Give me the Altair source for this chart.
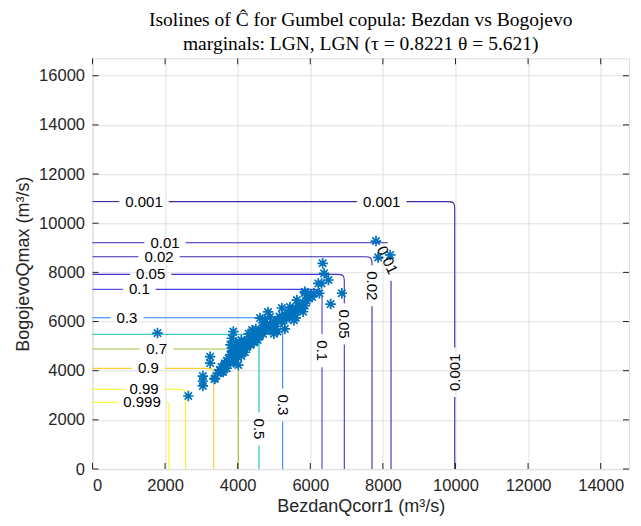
import altair as alt
import pandas as pd

# ---- axis ranges and plot-area size -------------------------------------
X_MAX = 14780
Y_MAX = 16710
W = 536.5
H = 410.7

# ---- contour levels of C-hat -------------------------------------------
levels = [0.001, 0.01, 0.02, 0.05, 0.1, 0.3, 0.5, 0.7, 0.9, 0.99, 0.999]
# x where each isoline runs vertically, y where it runs horizontally
level_x = [9979, 8224, 7700, 6937, 6323, 5239, 4587, 4018, 3339, 2567, 2108]
level_y = [10880, 9206, 8637, 7920, 7310, 6155, 5480, 4882, 4096, 3242, 2713]
level_colors = ["#3e26a8", "#3e27ab", "#3f28af", "#4332cb", "#4741e5", "#2e87f7",
                "#0bbdbc", "#9dc943", "#fccf30", "#f7f51b", "#f9fb14"]

# ---- inline contour labels ---------------------------------------------
label_level = [0.001, 0.001, 0.01, 0.02, 0.05, 0.1, 0.3, 0.7, 0.9, 0.99, 0.999,
               0.01, 0.02, 0.05, 0.1, 0.3, 0.5, 0.001]
label_x = [1419, 7967, 1997, 1832, 1603, 1290, 950, 1768, 1538, 1419, 1364,
           8122, 7700, 6937, 6323, 5239, 4587, 9979]
label_y = [10880, 10880, 9206, 8637, 7920, 7310, 6155, 4882, 4096, 3242, 2713,
           8502, 7457, 5899, 4812, 2604, 1627, 3934]
label_angle = [0, 0, 0, 0, 0, 0, 0, 0, 0, 0, 0, 65, 90, 90, 90, 90, 90, 270]

# ---- observed pairs (Bezdan, Bogojevo) ---------------------------------
obs_x = [1790, 2640, 3040, 3040, 3040, 3240, 3240, 3360, 3510, 3880, 3840, 3800,
         7810, 7870, 8200, 6340, 6380, 6500, 6310, 6250, 6870, 6560, 5850, 6220,
         3375, 3560, 3650, 3835, 4017, 3880, 4155, 4340,
         3450, 3550, 3600, 3650, 3700, 3700, 3750, 3800, 3800, 3850, 3850, 3900,
         3900, 3950, 3950, 4000, 4000, 4050, 4050, 4100, 4100, 4150, 4150, 4200,
         4200, 4250, 4250, 4300, 4350, 4350, 4400, 4450, 4450, 4500, 4550, 4550,
         4600, 4650, 4700, 4700, 4750, 4800, 4850, 4900, 4900, 4950, 5000, 5050,
         5100, 5150, 5200, 5250, 5300, 5350, 5400, 5450, 5500, 5550, 5600, 5650,
         5700, 5750, 5800, 5850, 5900, 5950, 6000, 6050, 6100,
         4615, 4835, 4890, 5215, 5440, 5630, 5854, 5215, 4500, 4700, 5000, 5300,
         5550, 5800, 4300, 4100, 3950, 4400, 4750, 5100, 5600]
obs_y = [5530, 2970, 3780, 3580, 3380, 4570, 4310, 3660, 4030, 5590, 5320, 5050,
         9275, 8610, 8710, 8370, 7960, 7690, 7550, 7150, 7150, 6710, 7210, 7550,
         3690, 3960, 4300, 4430, 4230, 4840, 4975, 5110,
         3900, 4150, 3950, 4250, 4400, 4100, 4500, 4300, 4650, 4450, 4800, 4600,
         4350, 4750, 4950, 4550, 4850, 4700, 5000, 4900, 4600, 5100, 4800, 5000,
         4750, 5200, 4950, 5100, 5300, 5050, 5200, 5400, 5150, 5300, 5500, 5250,
         5400, 5600, 5500, 5750, 5650, 5800, 5700, 5900, 5650, 5850, 6000, 5800,
         6050, 6200, 6000, 6150, 6300, 6100, 6350, 6250, 6450, 6350, 6550, 6450,
         6650, 6550, 6750, 6650, 6850, 6950, 7050, 7000, 7150,
         6140, 6390, 6180, 6550, 6590, 6875, 7160, 6060, 5700, 5950, 5500, 5700,
         6050, 6400, 5500, 5250, 5150, 5650, 6100, 5600, 6150]

x_ticks = list(range(0, 14001, 2000))
y_ticks = list(range(0, 16001, 2000))

TITLE = ["Isolines of \u0108 for Gumbel copula: Bezdan vs Bogojevo",
         "marginals: LGN, LGN (\u03c4 = 0.8221 \u03b8 = 5.621)"]
AXIS_COLOR = "#262626"
SANS = "Liberation Sans"
LABEL_SIZE = 15
TICK_SIZE = 16.5
AXIS_TITLE_SIZE = 18

# ---- build the isoline paths, broken where a label sits ----------------
px_x = W / X_MAX
px_y = H / Y_MAX
CORNER = 8   # rounding of the isoline corner, in px
PAD = 6      # clearance around an inline label, in px

line_rows = []
for i, lev in enumerate(levels):
    xp = level_x[i] * px_x
    yp = level_y[i] * px_y
    verts = [(0, yp), (xp - 2 * CORNER, yp), (xp - CORNER, yp), (xp, yp),
             (xp, yp - CORNER), (xp, yp - 2 * CORNER), (xp, 0)]
    s = [0.0]
    for a, b in zip(verts[:-1], verts[1:]):
        s.append(s[-1] + abs(b[0] - a[0]) + abs(b[1] - a[1]))

    gaps = []
    for j, ll in enumerate(label_level):
        if ll != lev:
            continue
        lx = label_x[j] * px_x
        ly = label_y[j] * px_y
        txt = str(ll)
        half = LABEL_SIZE * (0.556 * (len(txt) - 1) + 0.278) / 2 + PAD
        dh = abs(ly - yp) if lx <= xp else float("inf")
        dv = abs(lx - xp) if ly <= yp else float("inf")
        sc = lx if dh <= dv else xp + (yp - ly)
        gaps.append((sc - half, sc + half))
    gaps.sort()

    pieces = []
    start = 0.0
    for g0, g1 in gaps:
        if g0 > start:
            pieces.append((start, g0))
        start = max(start, g1)
    if start < s[-1]:
        pieces.append((start, s[-1]))

    def point_at(t):
        for k in range(len(verts) - 1):
            if s[k] <= t <= s[k + 1]:
                seg = s[k + 1] - s[k]
                f = 0 if seg == 0 else (t - s[k]) / seg
                return (verts[k][0] + f * (verts[k + 1][0] - verts[k][0]),
                        verts[k][1] + f * (verts[k + 1][1] - verts[k][1]))
        return verts[-1]

    for pi, (a, b) in enumerate(pieces):
        pts = [point_at(a)] + [verts[k] for k in range(len(verts)) if a < s[k] < b] + [point_at(b)]
        for order, (qx, qy) in enumerate(pts):
            line_rows.append({"level": str(lev), "piece": f"{lev}-{pi}", "order": order,
                              "x": qx / px_x, "y": qy / px_y})

lines_df = pd.DataFrame(line_rows)
labels_df = pd.DataFrame({"text": [str(v) for v in label_level], "x": label_x,
                          "y": label_y, "angle": label_angle})
obs_df = pd.DataFrame({"x": obs_x, "y": obs_y})

xscale = alt.Scale(domain=[0, X_MAX], nice=False, zero=False)
yscale = alt.Scale(domain=[0, Y_MAX], nice=False, zero=False)

x_axis = alt.Axis(values=x_ticks, format="d", grid=True, gridColor="#dfdfdf", domain=False,
                  ticks=False, labelFont=SANS, labelFontSize=TICK_SIZE, labelColor=AXIS_COLOR,
                  labelPadding=8, title="BezdanQcorr1 (m\u00b3/s)", titleFont=SANS,
                  titleFontSize=AXIS_TITLE_SIZE, titleFontWeight="normal", titleColor=AXIS_COLOR,
                  titlePadding=4)
y_axis = alt.Axis(values=y_ticks, format="d", grid=True, gridColor="#dfdfdf", domain=False,
                  ticks=False, labelFont=SANS, labelFontSize=TICK_SIZE, labelColor=AXIS_COLOR,
                  labelPadding=8, title="BogojevoQmax (m\u00b3/s)", titleFont=SANS,
                  titleFontSize=AXIS_TITLE_SIZE, titleFontWeight="normal", titleColor=AXIS_COLOR,
                  titlePadding=6)

iso = alt.Chart(lines_df).mark_line(interpolate="basis", strokeWidth=1.1).encode(
    x=alt.X("x:Q", scale=xscale, axis=x_axis),
    y=alt.Y("y:Q", scale=yscale, axis=y_axis),
    detail="piece:N",
    order="order:Q",
    color=alt.Color("level:N", scale=alt.Scale(domain=[str(v) for v in levels], range=level_colors),
                    legend=None),
)

ASTERISK = "M-1,0L1,0M0,-1L0,1M-0.7,-0.7L0.7,0.7M-0.7,0.7L0.7,-0.7"
pts = alt.Chart(obs_df).mark_point(shape=ASTERISK, size=110, filled=False, strokeWidth=1.7,
                                   color="#0072bd", opacity=1).encode(
    x=alt.X("x:Q", scale=xscale),
    y=alt.Y("y:Q", scale=yscale),
)

labels = alt.Chart(labels_df).mark_text(font=SANS, fontSize=LABEL_SIZE, color="black",
                                        align="center", baseline="middle").encode(
    x=alt.X("x:Q", scale=xscale),
    y=alt.Y("y:Q", scale=yscale),
    text="text:N",
    angle=alt.Angle("angle:Q", scale=None),
)

# inward tick marks on all four sides of the box
xt = pd.DataFrame({"v": x_ticks})
yt = pd.DataFrame({"v": y_ticks})
TL = 6
tick_bottom = alt.Chart(xt).mark_rule(color=AXIS_COLOR, strokeWidth=1).encode(
    x=alt.X("v:Q", scale=xscale), y=alt.value(H), y2=alt.value(H - TL))
tick_top = alt.Chart(xt).mark_rule(color=AXIS_COLOR, strokeWidth=1).encode(
    x=alt.X("v:Q", scale=xscale), y=alt.value(0), y2=alt.value(TL))
tick_left = alt.Chart(yt).mark_rule(color=AXIS_COLOR, strokeWidth=1).encode(
    y=alt.Y("v:Q", scale=yscale), x=alt.value(0), x2=alt.value(TL))
tick_right = alt.Chart(yt).mark_rule(color=AXIS_COLOR, strokeWidth=1).encode(
    y=alt.Y("v:Q", scale=yscale), x=alt.value(W), x2=alt.value(W - TL))

chart = alt.layer(iso, pts, labels, tick_bottom, tick_top, tick_left, tick_right).properties(
    width=W, height=H,
    title=alt.TitleParams(text=TITLE, font="Liberation Serif", fontSize=19.5, fontWeight="normal",
                          color="black", anchor="middle", lineHeight=24, offset=3),
    padding={"left": 92.5, "top": 58.3, "right": 12, "bottom": 57},
    autosize="none",
).configure_view(stroke=AXIS_COLOR, strokeWidth=1.2).configure(background="white")

chart.save("out.html", embed_options={"renderer": "svg", "actions": False})
